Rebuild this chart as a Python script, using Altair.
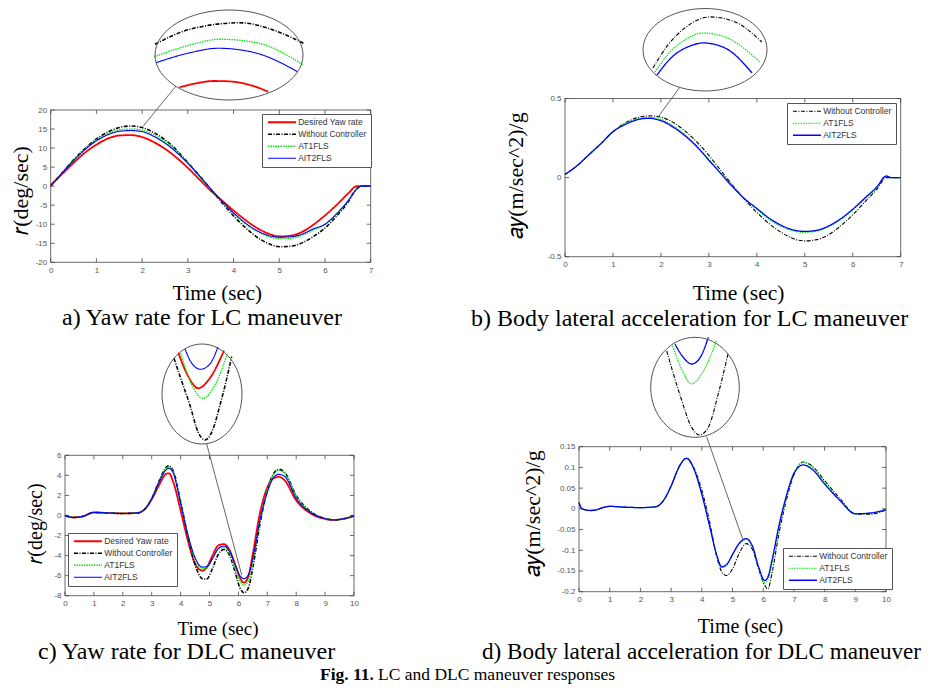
import altair as alt
import pandas as pd

W, H = 916, 678
M = 8  # page margin

NAMES = ["Desired Yaw rate", "Without Controller", "AT1FLS", "AIT2FLS"]
COLORS = ["#ff0000", "#000000", "#00e600", "#0000ff"]
DASHES = [[1, 0], [4, 1.5, 1, 1.5], [1.5, 1], [1, 0]]
WIDTHS = [1.8, 1.1, 1.3, 1.8]

# ---------------- Panel a : yaw rate, LC ----------------
T_A = [0, 0.25, 0.5, 0.75, 1.0, 1.25, 1.5, 1.75, 2.0, 2.25, 2.5, 2.75, 3.0, 3.25, 3.5,
       3.75, 4.0, 4.25, 4.5, 4.75, 5.0, 5.25, 5.5, 5.75, 6.0, 6.25, 6.5, 6.7, 6.8, 7.0]
A_RED = [0.3, 3.2, 6.1, 8.8, 10.9, 12.5, 13.3, 13.4, 12.9, 11.6, 9.8, 7.5, 4.8, 1.8, -1.2,
         -3.8, -6.4, -8.8, -10.9, -12.4, -13.2, -13.0, -12.0, -10.1, -7.7, -5.0, -2.0, 0.0, 0.0, 0.0]
A_BLACK = [0.0, 3.5, 6.9, 9.9, 12.4, 14.2, 15.4, 15.8, 15.4, 14.1, 12.2, 9.5, 6.2, 2.8, -0.8,
           -4.4, -7.8, -10.8, -13.3, -15.0, -15.9, -15.8, -14.9, -13.2, -11.0, -7.9, -4.3, -0.6, 0.0, 0.0]
A_GREEN = [0.0, 3.4, 6.8, 9.7, 12.1, 13.8, 14.8, 15.0, 14.7, 13.5, 11.7, 9.2, 6.1, 2.7, -0.8,
           -4.1, -7.2, -9.8, -11.8, -13.2, -13.8, -13.7, -12.9, -11.5, -10.1, -7.4, -4.0, -0.7, 0.0, 0.0]
A_BLUE = [0.0, 3.4, 6.7, 9.6, 11.9, 13.5, 14.4, 14.6, 14.3, 13.1, 11.3, 8.9, 6.0, 2.7, -0.7,
          -4.0, -7.0, -9.6, -11.6, -12.9, -13.4, -13.3, -12.6, -11.2, -10.0, -7.3, -3.9, -0.7, 0.0, 0.0]

# ---------------- Panel b : lateral acceleration, LC ----------------
T_B = T_A
B_BLACK = [0.02, 0.075, 0.145, 0.215, 0.29, 0.345, 0.378, 0.39, 0.382, 0.35, 0.295, 0.225, 0.14, 0.045, -0.05,
           -0.14, -0.22, -0.29, -0.345, -0.385, -0.40, -0.392, -0.36, -0.305, -0.235, -0.155, -0.075, 0.0, 0.0, 0.0]
B_GREEN = [0.02, 0.075, 0.145, 0.215, 0.29, 0.34, 0.37, 0.38, 0.368, 0.328, 0.272, 0.2, 0.115, 0.028, -0.058,
           -0.135, -0.2, -0.262, -0.308, -0.336, -0.346, -0.338, -0.31, -0.265, -0.205, -0.135, -0.063, 0.01, 0.0, 0.0]
B_BLUE = [0.02, 0.075, 0.145, 0.215, 0.29, 0.335, 0.365, 0.375, 0.36, 0.32, 0.265, 0.195, 0.11, 0.025, -0.06,
          -0.135, -0.195, -0.255, -0.3, -0.33, -0.34, -0.333, -0.305, -0.26, -0.2, -0.13, -0.06, 0.01, 0.0, 0.0]

# ---------------- Panel c : yaw rate, DLC ----------------
T_C = [0, 0.3, 0.6, 1.0, 1.5, 2.0, 2.5, 2.75, 3.0, 3.25, 3.5, 3.6, 3.75, 4.0, 4.25, 4.5, 4.75, 4.9, 5.1,
       5.3, 5.5, 5.7, 5.9, 6.05, 6.2, 6.35, 6.5, 6.75, 7.0, 7.2, 7.4, 7.6, 8.0, 8.5, 9.0, 9.3, 9.6, 10.0]
C_RED = [0, -0.2, -0.1, 0.3, 0.25, 0.2, 0.25, 0.6, 1.6, 3.0, 4.15, 4.2, 3.3, 0.5, -2.5, -4.8, -5.5, -5.2, -4.0,
         -3.0, -2.85, -3.5, -5.0, -6.2, -6.7, -6.0, -3.8, 0.3, 2.8, 3.7, 3.85, 3.5, 1.5, 0.2, -0.35, -0.45, -0.35, -0.05]
C_BLACK = [0, -0.2, -0.1, 0.3, 0.25, 0.2, 0.25, 0.6, 1.7, 3.4, 4.8, 4.95, 4.4, 1.4, -2.0, -4.9, -6.3, -6.35, -5.3,
           -3.9, -3.4, -4.0, -5.8, -7.2, -7.7, -7.2, -5.2, -0.8, 2.5, 4.1, 4.6, 4.3, 2.0, 0.4, -0.3, -0.45, -0.35, -0.05]
C_GREEN = [0, -0.2, -0.1, 0.3, 0.25, 0.2, 0.25, 0.6, 1.7, 3.35, 4.7, 4.85, 4.3, 1.3, -1.9, -4.4, -5.3, -5.25, -4.4,
           -3.4, -3.2, -3.8, -5.4, -6.5, -6.95, -6.5, -4.6, -0.5, 2.5, 4.0, 4.5, 4.2, 1.9, 0.35, -0.3, -0.45, -0.35, -0.05]
C_BLUE = [0, -0.2, -0.1, 0.3, 0.25, 0.2, 0.25, 0.6, 1.65, 3.3, 4.55, 4.7, 4.2, 1.2, -1.9, -4.2, -5.15, -5.1, -4.3,
          -3.3, -3.05, -3.6, -5.0, -6.0, -6.3, -5.9, -4.3, -0.4, 2.3, 3.7, 4.1, 3.9, 1.7, 0.3, -0.3, -0.45, -0.35, -0.05]

# ---------------- Panel d : lateral acceleration, DLC ----------------
T_D = [0, 0.1, 0.4, 1.0, 1.5, 2.0, 2.5, 2.75, 3.0, 3.25, 3.5, 3.75, 4.0, 4.25, 4.5, 4.65, 4.8, 5.0, 5.2, 5.45,
       5.65, 5.85, 6.05, 6.15, 6.3, 6.5, 6.75, 7.0, 7.3, 7.6, 8.0, 8.5, 9.0, 9.5, 10.0]
D_BLACK = [0.015, 0.0, -0.004, 0.006, 0.004, 0.003, 0.005, 0.02, 0.055, 0.10, 0.122, 0.098, 0.045, -0.03, -0.12,
           -0.152, -0.161, -0.145, -0.11, -0.084, -0.098, -0.145, -0.185, -0.193, -0.15, -0.065, 0.02, 0.082,
           0.113, 0.103, 0.068, 0.025, -0.012, -0.013, -0.003]
D_GREEN = [0.015, 0.0, -0.004, 0.006, 0.004, 0.003, 0.005, 0.02, 0.055, 0.10, 0.122, 0.095, 0.035, -0.04, -0.115,
           -0.142, -0.137, -0.112, -0.087, -0.074, -0.092, -0.142, -0.178, -0.172, -0.127, -0.05, 0.028, 0.086,
           0.112, 0.1, 0.064, 0.022, -0.012, -0.01, -0.002]
D_BLUE = [0.015, 0.0, -0.004, 0.006, 0.004, 0.003, 0.005, 0.02, 0.055, 0.10, 0.122, 0.095, 0.035, -0.04, -0.115,
          -0.14, -0.135, -0.11, -0.085, -0.072, -0.09, -0.14, -0.173, -0.165, -0.12, -0.045, 0.03, 0.085,
          0.106, 0.095, 0.06, 0.02, -0.012, -0.01, -0.002]

# ---------------- Magnified insets (read from the ellipses) ----------------
IA_BLACK_T = [1.35, 1.539, 1.809, 1.989, 2.152]
IA_BLACK_V = [14.93, 15.53, 15.79, 15.5, 14.97]
IA_GREEN_T = [1.345, 1.539, 1.701, 1.90, 2.152]
IA_GREEN_V = [14.43, 14.9, 15.13, 14.99, 14.1]
IA_BLUE_T = [1.355, 1.539, 1.692, 1.90, 2.121]
IA_BLUE_V = [14.19, 14.59, 14.77, 14.57, 13.83]
IA_RED_T = [1.481, 1.575, 1.665, 1.738, 1.864, 1.962]
IA_RED_V = [13.21, 13.37, 13.46, 13.45, 13.3, 13.03]

IB_BLACK_T = [1.372, 1.481, 1.604, 1.786, 1.967, 2.162]
IB_BLACK_V = [0.3588, 0.3739, 0.3850, 0.3922, 0.3889, 0.3758]
IB_GREEN_T = [1.387, 1.496, 1.626, 1.735, 1.894, 2.148]
IB_GREEN_V = [0.3562, 0.3693, 0.3784, 0.3817, 0.3791, 0.3627]
IB_BLUE_T = [1.401, 1.510, 1.641, 1.735, 1.894, 2.090]
IB_BLUE_V = [0.3542, 0.3660, 0.3732, 0.3752, 0.3719, 0.3556]

IC_BLUE_T = [6.025, 6.077, 6.162, 6.244, 6.314]
IC_BLUE_V = [-5.905, -6.162, -6.306, -6.201, -5.866]
IC_RED_T = [5.966, 6.051, 6.141, 6.244, 6.367]
IC_RED_V = [-5.978, -6.438, -6.68, -6.477, -5.939]
IC_GREEN_T = [5.987, 6.086, 6.180, 6.288, 6.396]
IC_GREEN_V = [-5.99, -6.615, -6.878, -6.615, -6.004]
IC_BLACK_T = [5.928, 5.998, 6.068, 6.139, 6.2, 6.261, 6.332, 6.384, 6.434]
IC_BLACK_V = [-6.089, -6.556, -7.01, -7.54, -7.7, -7.54, -7.01, -6.556, -6.057]

ID_BLUE_T = [5.944, 5.995, 6.051, 6.104, 6.158]
ID_BLUE_V = [-0.1674, -0.171, -0.173, -0.1713, -0.1655]
ID_GREEN_T = [5.929, 5.989, 6.051, 6.130, 6.212]
ID_GREEN_V = [-0.1679, -0.1747, -0.1786, -0.1747, -0.1662]
ID_BLACK_T = [5.891, 5.976, 6.053, 6.1, 6.156, 6.22, 6.285]
ID_BLACK_V = [-0.1693, -0.1817, -0.191, -0.193, -0.191, -0.1817, -0.1700]

# connector lines (curve point -> ellipse edge), in each panel's data units
CONN_A = [2.026, 15.8, 2.741, 26.3]
CONN_B = [1.945, 0.385, 2.398, 0.5727]
CONN_C = [6.114, -5.93, 4.903, 7.127]
CONN_D = [5.342, -0.0752, 4.16, 0.1734]

CAPTIONS = ["a) Yaw rate for LC maneuver", "b) Body lateral acceleration for LC maneuver",
            "c) Yaw rate for DLC maneuver", "d) Body lateral acceleration for DLC maneuver"]
FIG_BOLD = "Fig. 11."
FIG_TEXT = "LC and DLC maneuver responses"
YT_R = "\U0001D45F(deg/sec)"
YT_A = "\U0001D44E\U0001D466(m/sec^2)/g"

SERIF = "Liberation Serif"
SANS = "Liberation Sans"
TICK_PX = 4


def long_df(series):
    rows = []
    for name, ts, vs in series:
        for t, v in zip(ts, vs):
            rows.append({"t": t, "v": v, "s": name})
    return pd.DataFrame(rows)


def ellipse_path(ax, ay):
    k = 0.5523
    f = lambda z: f"{z:.4f}"
    return (f"M{f(ax)},0 C{f(ax)},{f(k*ay)} {f(k*ax)},{f(ay)} 0,{f(ay)} "
            f"C{f(-k*ax)},{f(ay)} {f(-ax)},{f(k*ay)} {f(-ax)},0 "
            f"C{f(-ax)},{f(-k*ay)} {f(-k*ax)},{f(-ay)} 0,{f(-ay)} "
            f"C{f(k*ax)},{f(-ay)} {f(ax)},{f(-k*ay)} {f(ax)},0 Z")


def series_scales(names):
    idx = [NAMES.index(n) for n in names]
    return (alt.Scale(domain=names, range=[COLORS[i] for i in idx]),
            alt.Scale(domain=names, range=[DASHES[i] for i in idx]),
            alt.Scale(domain=names, range=[WIDTHS[i] for i in idx]))


def panel(main, names, xdom, ydom, box, xticks, yticks, xtitle_c, ytitle, ytitle_c,
          xt_size, yt_size, legend_xy, inset, inset_dom, inset_box, ell, conn):
    l, t, r, b = [v - M for v in box]
    xs = alt.Scale(domain=xdom, range=[l, r], nice=False, zero=False)
    ys = alt.Scale(domain=ydom, range=[b, t], nice=False, zero=False)
    cs, ds, ws = series_scales(names)
    leg = alt.Legend(title=None, orient="none", legendX=legend_xy[0] - M, legendY=legend_xy[1] - M,
                     fillColor="white", strokeColor="#555", padding=4, cornerRadius=0,
                     symbolType="M-7,0H7", symbolSize=16, symbolStrokeWidth=1.6,
                     symbolOffset=11.7, labelOffset=12,
                     labelFont=SANS, labelFontSize=8.5, labelColor="#333", rowPadding=3)
    xaxis = alt.Axis(orient="bottom", offset=b - H, values=xticks, labelExpr="toString(datum.value)",
                     grid=False, domain=False, ticks=False, labelPadding=4,
                     labelFont=SANS, labelFontSize=8, labelColor="#555", labelFlush=False,
                     labelOverlap=False, title="Time (sec)", titleFont=SERIF, titleFontSize=xt_size,
                     titleFontWeight="normal", titleColor="black", titleX=xtitle_c[0] - M,
                     titleY=xtitle_c[1] - M - b, titleBaseline="middle", titleAlign="center")
    yaxis = alt.Axis(orient="left", offset=-l, values=yticks, labelExpr="toString(datum.value)",
                     grid=False, domain=False, ticks=False, labelPadding=4,
                     labelFont=SANS, labelFontSize=8, labelColor="#555", labelFlush=False,
                     labelOverlap=False, title=ytitle, titleFont=SERIF, titleFontSize=yt_size,
                     titleFontWeight="normal", titleColor="black", titleX=ytitle_c[0] - M - l,
                     titleY=ytitle_c[1] - M, titleBaseline="middle", titleAlign="center", titleAngle=270)
    boxdf = pd.DataFrame({"x0": [xdom[0]], "x1": [xdom[1]], "y0": [ydom[0]], "y1": [ydom[1]]})
    box_layer = alt.Chart(boxdf).mark_rect(fillOpacity=0, stroke="#444", strokeWidth=0.8).encode(
        x=alt.X("x0:Q", scale=xs, axis=None), x2="x1:Q",
        y=alt.Y("y0:Q", scale=ys, axis=None), y2="y1:Q")
    # inward ticks on all four sides (MATLAB style)
    dx = TICK_PX * (xdom[1] - xdom[0]) / (r - l)
    dy = TICK_PX * (ydom[1] - ydom[0]) / (b - t)
    trows = []
    for xv in xticks:
        trows.append({"a": xv, "b": ydom[0], "a2": xv, "b2": ydom[0] + dy})
        trows.append({"a": xv, "b": ydom[1], "a2": xv, "b2": ydom[1] - dy})
    for yv in yticks:
        trows.append({"a": xdom[0], "b": yv, "a2": xdom[0] + dx, "b2": yv})
        trows.append({"a": xdom[1], "b": yv, "a2": xdom[1] - dx, "b2": yv})
    tick_layer = alt.Chart(pd.DataFrame(trows)).mark_rule(color="#444", strokeWidth=0.8).encode(
        x=alt.X("a:Q", scale=xs, axis=None), x2="a2:Q",
        y=alt.Y("b:Q", scale=ys, axis=None), y2="b2:Q")
    lines = alt.Chart(long_df(main)).mark_line(interpolate="monotone").encode(
        x=alt.X("t:Q", scale=xs, axis=xaxis),
        y=alt.Y("v:Q", scale=ys, axis=yaxis),
        color=alt.Color("s:N", scale=cs, legend=leg),
        strokeDash=alt.StrokeDash("s:N", scale=ds, legend=leg),
        strokeWidth=alt.StrokeWidth("s:N", scale=ws, legend=None),
    )
    conndf = pd.DataFrame({"t1": [conn[0]], "v1": [conn[1]], "t2": [conn[2]], "v2": [conn[3]]})
    conn_layer = alt.Chart(conndf).mark_rule(color="#555", strokeWidth=0.9).encode(
        x=alt.X("t1:Q", scale=xs, axis=None), x2="t2:Q",
        y=alt.Y("v1:Q", scale=ys, axis=None), y2="v2:Q")
    il, it, ir, ib = [v - M for v in inset_box]
    ixs = alt.Scale(domain=inset_dom[0], range=[il, ir], nice=False, zero=False)
    iys = alt.Scale(domain=inset_dom[1], range=[ib, it], nice=False, zero=False)
    inames = [s[0] for s in inset]
    ics, ids, iws = series_scales([n for n in NAMES if n in inames])
    inset_lines = alt.Chart(long_df(inset)).mark_line(interpolate="monotone").encode(
        x=alt.X("t:Q", scale=ixs, axis=None),
        y=alt.Y("v:Q", scale=iys, axis=None),
        color=alt.Color("s:N", scale=ics, legend=None),
        strokeDash=alt.StrokeDash("s:N", scale=ids, legend=None),
        strokeWidth=alt.StrokeWidth("s:N", scale=iws, legend=None),
    )
    cx = (inset_dom[0][0] + inset_dom[0][1]) / 2
    cy = (inset_dom[1][0] + inset_dom[1][1]) / 2
    edf = pd.DataFrame({"t": [cx], "v": [cy]})
    ell_layer = alt.Chart(edf).mark_point(shape=ellipse_path(ell[0], ell[1]), size=ell[2], filled=False,
                                          color="#555", strokeWidth=1, opacity=1).encode(
        x=alt.X("t:Q", scale=ixs, axis=None), y=alt.Y("v:Q", scale=iys, axis=None))
    return [box_layer, tick_layer, lines, conn_layer, inset_lines, ell_layer]


layers = []
layers += panel(
    [(NAMES[0], T_A, A_RED), (NAMES[1], T_A, A_BLACK), (NAMES[2], T_A, A_GREEN), (NAMES[3], T_A, A_BLUE)],
    NAMES, [0, 7], [-20, 20], (50.7, 110, 370.7, 262.3), list(range(0, 8)), list(range(-20, 21, 5)),
    (216.7, 293), YT_R, (20, 190), 21, 22, (262, 114),
    [(NAMES[0], IA_RED_T, IA_RED_V), (NAMES[1], IA_BLACK_T, IA_BLACK_V),
     (NAMES[2], IA_GREEN_T, IA_GREEN_V), (NAMES[3], IA_BLUE_T, IA_BLUE_V)],
    ([1.35, 2.15], [12.7, 16.3]), (155, 10, 303, 100), (1, 0.608, 21904), CONN_A)
layers += panel(
    [(NAMES[1], T_B, B_BLACK), (NAMES[2], T_B, B_GREEN), (NAMES[3], T_B, B_BLUE)],
    NAMES[1:], [0, 7], [-0.5, 0.5], (565, 98.5, 900.7, 256.7), list(range(0, 8)), [-0.5, 0, 0.5],
    (738, 293), YT_A, (515, 175), 21.5, 22, (787, 103),
    [(NAMES[1], IB_BLACK_T, IB_BLACK_V), (NAMES[2], IB_GREEN_T, IB_GREEN_V), (NAMES[3], IB_BLUE_T, IB_BLUE_V)],
    ([1.3, 2.1986], [0.3438, 0.3977]), (643, 8.5, 767, 91), (1, 0.665, 15376), CONN_B)
layers += panel(
    [(NAMES[0], T_C, C_RED), (NAMES[1], T_C, C_BLACK), (NAMES[2], T_C, C_GREEN), (NAMES[3], T_C, C_BLUE)],
    NAMES, [0, 10], [-8, 6], (65, 455.3, 354, 595.7), list(range(0, 11)), list(range(-8, 7, 2)),
    (217.5, 628), YT_R, (35, 523), 19, 20, (68, 533),
    [(NAMES[0], IC_RED_T, IC_RED_V), (NAMES[1], IC_BLACK_T, IC_BLACK_V),
     (NAMES[2], IC_GREEN_T, IC_GREEN_V), (NAMES[3], IC_BLUE_T, IC_BLUE_V)],
    ([5.823, 6.525], [-7.779, -5.807]), (162, 344, 242, 444), (0.8, 1, 10000), CONN_C)
layers += panel(
    [(NAMES[1], T_D, D_BLACK), (NAMES[2], T_D, D_GREEN), (NAMES[3], T_D, D_BLUE)],
    NAMES[1:], [0, 10], [-0.2, 0.15], (579, 446.7, 886, 591.7), list(range(0, 11)),
    [-0.2, -0.15, -0.1, -0.05, 0, 0.05, 0.1, 0.15],
    (740, 626.7), YT_A, (532, 513), 20, 22, (783, 548),
    [(NAMES[1], ID_BLACK_T, ID_BLACK_V), (NAMES[2], ID_GREEN_T, ID_GREEN_V), (NAMES[3], ID_BLUE_T, ID_BLUE_V)],
    ([5.7885, 6.3564], [-0.19365, -0.16548]), (650.7, 337.3, 739.3, 437.3), (0.886, 1, 10000), CONN_D)

# captions
cap_pos = [(62, 318, 24), (471, 319, 24), (38, 652, 24), (482, 652, 23.2)]
for text, (px, py, fs) in zip(CAPTIONS, cap_pos):
    layers.append(alt.Chart(pd.DataFrame({"txt": [text]})).mark_text(
        font=SERIF, fontSize=fs, align="left", baseline="middle", color="black").encode(
        x=alt.value(px - M), y=alt.value(py - M), text="txt:N"))
layers.append(alt.Chart(pd.DataFrame({"txt": [FIG_BOLD]})).mark_text(
    font=SERIF, fontSize=17.5, fontWeight="bold", align="right", baseline="middle", color="black").encode(
    x=alt.value(374 - M), y=alt.value(675 - M), text="txt:N"))
layers.append(alt.Chart(pd.DataFrame({"txt": [FIG_TEXT]})).mark_text(
    font=SERIF, fontSize=17.5, align="left", baseline="middle", color="black").encode(
    x=alt.value(378 - M), y=alt.value(675 - M), text="txt:N"))

chart = alt.layer(*layers).resolve_scale(
    x="independent", y="independent", color="independent", strokeDash="independent",
    strokeWidth="independent").resolve_axis(x="independent", y="independent").resolve_legend(
    color="independent", strokeDash="independent").properties(
    width=W, height=H, autosize=alt.AutoSizeParams(type="none"), padding=0,
    background="white").configure_view(strokeWidth=0)

chart.save("out.html", embed_options={"renderer": "svg", "actions": False})
